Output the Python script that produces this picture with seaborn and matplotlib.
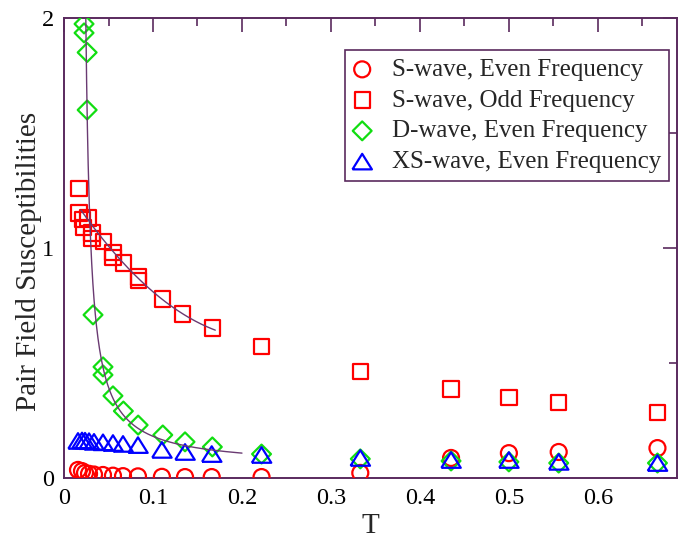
import numpy as np
import pandas as pd
import matplotlib
matplotlib.use("Agg")
import matplotlib.pyplot as plt
from matplotlib.ticker import MultipleLocator, FixedLocator
import seaborn as sns

# ---- data -------------------------------------------------------------
# S-wave, even frequency
T_s_even = [0.0157, 0.0202, 0.0236, 0.0281, 0.0337, 0.0438, 0.055, 0.0663,
            0.0831, 0.110, 0.136, 0.166, 0.222, 0.333, 0.435, 0.500, 0.556, 0.667]
chi_s_even = [0.035, 0.030, 0.022, 0.018, 0.015, 0.013, 0.010, 0.008,
              0.007, 0.005, 0.004, 0.004, 0.004, 0.022, 0.087, 0.108, 0.113, 0.130]

# S-wave, odd frequency
T_s_odd = [0.0169, 0.0169, 0.021, 0.022, 0.027, 0.0315, 0.0315, 0.044, 0.055,
           0.055, 0.0667, 0.0833, 0.0833, 0.111, 0.133, 0.1667, 0.222, 0.333,
           0.435, 0.500, 0.556, 0.667]
chi_s_odd = [1.257, 1.152, 1.125, 1.090, 1.130, 1.065, 1.040, 1.027, 0.980,
             0.960, 0.935, 0.874, 0.860, 0.778, 0.713, 0.652, 0.571, 0.462,
             0.387, 0.351, 0.328, 0.286]

# D-wave, even frequency
T_d_even = [0.0225, 0.0225, 0.026, 0.026, 0.0326, 0.0438, 0.0438, 0.055, 0.0667,
            0.0833, 0.111, 0.136, 0.1667, 0.222, 0.333, 0.435, 0.500, 0.556, 0.667]
chi_d_even = [1.974, 1.935, 1.850, 1.600, 0.709, 0.483, 0.448, 0.357, 0.291,
              0.230, 0.187, 0.157, 0.135, 0.104, 0.083, 0.074, 0.070, 0.065, 0.065]

# XS-wave, even frequency
T_xs_even = [0.0157, 0.0202, 0.0236, 0.0281, 0.0337, 0.0438, 0.055, 0.0663,
             0.0831, 0.110, 0.136, 0.166, 0.222, 0.333, 0.435, 0.500, 0.556, 0.667]
chi_xs_even = [0.161, 0.163, 0.162, 0.160, 0.157, 0.155, 0.152, 0.148,
               0.143, 0.122, 0.113, 0.104, 0.100, 0.087, 0.078, 0.078, 0.070, 0.065]

series_labels = ["S-wave, Even Frequency", "S-wave, Odd Frequency",
                 "D-wave, Even Frequency", "XS-wave, Even Frequency"]

# fit parameters
odd_fit_coef = [13.25, -5.96, 1.273]      # quadratic in T
odd_fit_range = (0.019, 0.17)
d_fit_a, d_fit_Tc, d_fit_c = 0.0107, 0.019, 0.049   # c + a/(T - Tc)
d_fit_range = (0.0245, 0.20)

x_tick_vals = [0, 0.1, 0.2, 0.3, 0.4, 0.5, 0.6]
x_tick_labels = ["0", "0.1", "0.2", "0.3", "0.4", "0.5", "0.6"]
y_tick_vals = [0, 1, 2]
y_tick_labels = ["0", "1", "2"]

# ---- style ------------------------------------------------------------
sns.set_theme(style="white")
plt.rcParams["font.family"] = ["Liberation Serif", "DejaVu Serif"]
axis_col = "#5a2a5e"
plt.rcParams["axes.edgecolor"] = axis_col

fig = plt.figure(figsize=(6.79, 5.41), dpi=100)
ax = fig.add_axes([0.0943, 0.1165, 0.9028, 0.8503])

tri = [(-1.0, -0.8), (1.0, -0.8), (0.0, 0.8), (-1.0, -0.8)]

styles = [
    (T_s_even, chi_s_even, "o", "#ff0000", 11.5),
    (T_s_odd, chi_s_odd, "s", "#ff0000", 11.0),
    (T_d_even, chi_d_even, "D", "#11dd11", 9.6),
    (T_xs_even, chi_xs_even, tri, "#0000ff", 14.0),
]

for (T, chi, mk, col, ms), lab in zip(styles, series_labels):
    df = pd.DataFrame({"T": T, "chi": chi})
    sns.scatterplot(data=df, x="T", y="chi", marker=mk, s=ms ** 2,
                    facecolor="none", edgecolor=col, linewidth=1.6,
                    label=lab, ax=ax, zorder=3)

# fitted curves
Tf = np.linspace(*odd_fit_range, 200)
sns.lineplot(x=Tf, y=np.polyval(odd_fit_coef, Tf), color="#6a3a72",
             lw=1.0, ax=ax, zorder=4, legend=False, estimator=None, sort=False)
Tf2 = np.linspace(*d_fit_range, 400)
sns.lineplot(x=Tf2, y=d_fit_c + d_fit_a / (Tf2 - d_fit_Tc), color="#6a3a72",
             lw=1.0, ax=ax, zorder=4, legend=False, estimator=None, sort=False)

ax.set_xlim(0, 0.689)
ax.set_ylim(0, 2.0)
ax.xaxis.set_major_locator(FixedLocator(x_tick_vals))
ax.set_xticklabels(x_tick_labels)
ax.xaxis.set_minor_locator(MultipleLocator(0.05))
ax.yaxis.set_major_locator(FixedLocator(y_tick_vals))
ax.set_yticklabels(y_tick_labels)
ax.yaxis.set_minor_locator(MultipleLocator(0.5))
ax.tick_params(which="both", direction="in", top=True, right=True,
               color=axis_col, labelsize=17.5, labelcolor="black")
ax.tick_params(which="major", length=10, width=1.2, pad=7)
ax.tick_params(which="minor", length=5.5, width=1.2)
for sp in ax.spines.values():
    sp.set_linewidth(1.4)
    sp.set_color(axis_col)

ax.set_xlabel("T", fontsize=21, labelpad=3)
ax.set_ylabel("Pair Field Susceptibilities", fontsize=21)
ax.yaxis.set_label_coords(-0.036, 0.47)

leg = ax.legend(loc="upper right", bbox_to_anchor=(0.987, 0.930),
                borderaxespad=0, fontsize=18, frameon=True, fancybox=False,
                framealpha=1, edgecolor=axis_col, scatterpoints=1,
                handlelength=0.75, handletextpad=0.8, labelspacing=0.33,
                borderpad=0.33)
leg.get_frame().set_linewidth(1.2)

fig.savefig("out.png", dpi=100)
